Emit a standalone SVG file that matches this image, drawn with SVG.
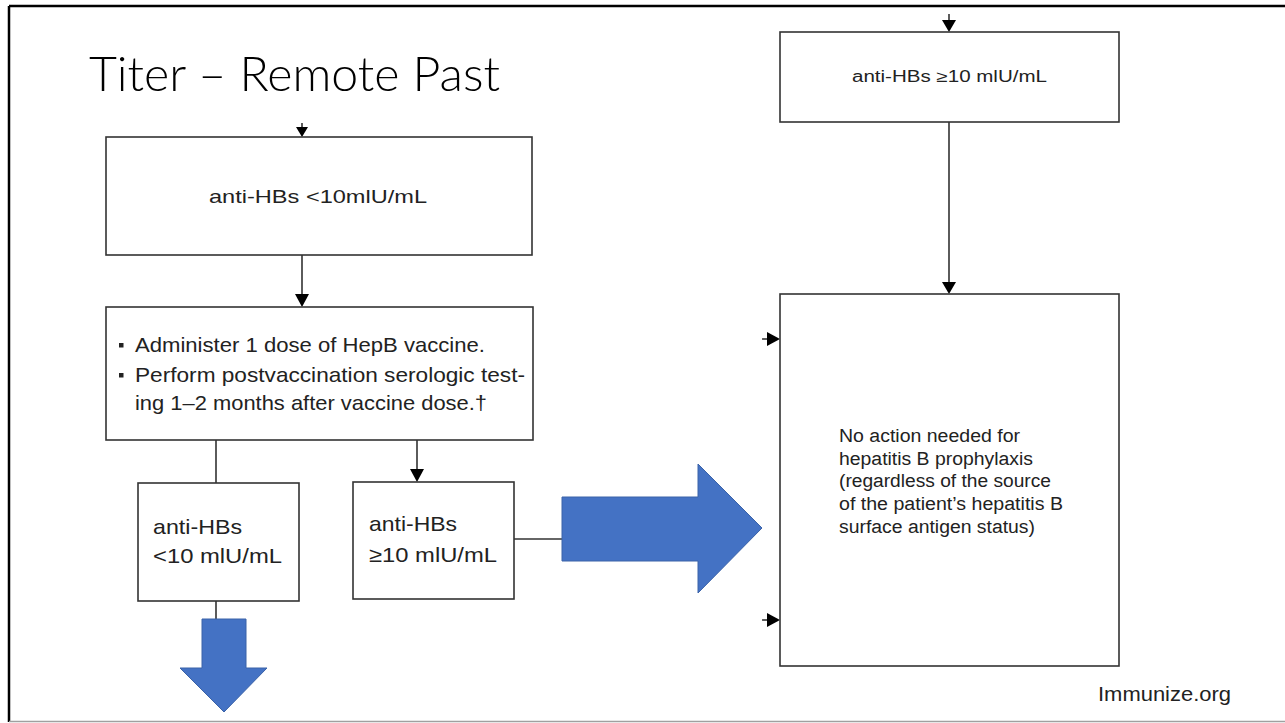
<svg xmlns="http://www.w3.org/2000/svg" width="1285" height="723" viewBox="0 0 1285 723">
<style>
.box{fill:#fff;stroke:#333;stroke-width:1.6}
.ln{stroke:#333;stroke-width:1.6;fill:none}
.ah{fill:#000}
.blue{fill:#4472C4;stroke:#3a62a8;stroke-width:1}
.t{font-family:"Liberation Sans",Arial,sans-serif;fill:#222}
.title{font-family:Lato,"Liberation Sans",sans-serif;font-weight:300;fill:#000}
</style>
<rect x="0" y="0" width="1285" height="723" fill="#fff"/>
<g id="frame">
<line x1="9" y1="6" x2="1285" y2="6" stroke="#000" stroke-width="2.5"/>
<line x1="9" y1="6" x2="9" y2="722" stroke="#000" stroke-width="2.5"/>
<line x1="9" y1="721.5" x2="1285" y2="721.5" stroke="#a0a0a0" stroke-width="1.5"/>
</g>
<g id="title">
<text class="title" x="89" y="91" font-size="48" textLength="411" lengthAdjust="spacingAndGlyphs">Titer – Remote Past</text>
</g>
<g id="connectors">
<line class="ln" x1="302" y1="123" x2="302" y2="128"/>
<polygon class="ah" points="296,127 308,127 302,137"/>
<line class="ln" x1="302" y1="255" x2="302" y2="295"/>
<polygon class="ah" points="295,294 309,294 302,307"/>
<line class="ln" x1="216" y1="440" x2="216" y2="483"/>
<line class="ln" x1="417" y1="440" x2="417" y2="470"/>
<polygon class="ah" points="410,469 424,469 417,482"/>
<line class="ln" x1="216" y1="601" x2="216" y2="620"/>
<line class="ln" x1="499" y1="539" x2="563" y2="539"/>
<line class="ln" x1="949" y1="14" x2="949" y2="21"/>
<polygon class="ah" points="942,20 956,20 949,32"/>
<line class="ln" x1="949" y1="122" x2="949" y2="283"/>
<polygon class="ah" points="942,282 956,282 949,294"/>
<line class="ln" x1="762" y1="339" x2="768" y2="339"/>
<polygon class="ah" points="767,332 767,346 780,339"/>
<line class="ln" x1="762" y1="620" x2="768" y2="620"/>
<polygon class="ah" points="767,613 767,627 780,620"/>
</g>
<g id="arrow-down">
<polygon class="blue" points="202,619 246,619 246,668 267,668 224,712 180,668 202,668"/>
</g>
<g id="arrow-right">
<polygon class="blue" points="562,497 698,497 698,464 762,528 698,593 698,561 562,561"/>
</g>
<g id="node-low-titer">
<rect class="box" x="106" y="137" width="426" height="118"/>
<text class="t" x="318" y="203" font-size="19" text-anchor="middle" textLength="218" lengthAdjust="spacingAndGlyphs">anti-HBs &lt;10mlU/mL</text>
</g>
<g id="node-action">
<rect class="box" x="106" y="307" width="427" height="133"/>
<rect x="119" y="343" width="4.5" height="4.5" fill="#222"/>
<rect x="119" y="373" width="4.5" height="4.5" fill="#222"/>
<text class="t" x="135" y="352" font-size="21" textLength="350" lengthAdjust="spacingAndGlyphs">Administer 1 dose of HepB vaccine.</text>
<text class="t" x="135" y="382" font-size="21" textLength="390" lengthAdjust="spacingAndGlyphs">Perform postvaccination serologic test-</text>
<text class="t" x="135" y="410" font-size="21" textLength="352" lengthAdjust="spacingAndGlyphs">ing 1–2 months after vaccine dose.†</text>
</g>
<g id="node-post-low">
<rect class="box" x="138" y="483" width="161" height="118"/>
<text class="t" x="153" y="534" font-size="21" textLength="89" lengthAdjust="spacingAndGlyphs">anti-HBs</text>
<text class="t" x="153" y="563" font-size="21" textLength="129" lengthAdjust="spacingAndGlyphs">&lt;10 mlU/mL</text>
</g>
<g id="node-post-high">
<rect class="box" x="353" y="482" width="161" height="117"/>
<text class="t" x="369" y="531" font-size="21" textLength="88" lengthAdjust="spacingAndGlyphs">anti-HBs</text>
<text class="t" x="369" y="562" font-size="21" textLength="128" lengthAdjust="spacingAndGlyphs">≥10 mlU/mL</text>
</g>
<g id="node-high-titer">
<rect class="box" x="780" y="32" width="339" height="90"/>
<text class="t" x="949.5" y="82" font-size="16" text-anchor="middle" textLength="195" lengthAdjust="spacingAndGlyphs">anti-HBs ≥10 mlU/mL</text>
</g>
<g id="node-no-action">
<rect class="box" x="780" y="294" width="339" height="372"/>
<text class="t" x="839" y="442" font-size="18" textLength="181" lengthAdjust="spacingAndGlyphs">No action needed for</text>
<text class="t" x="839" y="464.5" font-size="18" textLength="194" lengthAdjust="spacingAndGlyphs">hepatitis B prophylaxis</text>
<text class="t" x="839" y="487" font-size="18" textLength="212" lengthAdjust="spacingAndGlyphs">(regardless of the source</text>
<text class="t" x="839" y="510" font-size="18" textLength="224" lengthAdjust="spacingAndGlyphs">of the patient’s hepatitis B</text>
<text class="t" x="839" y="533" font-size="18" textLength="196" lengthAdjust="spacingAndGlyphs">surface antigen status)</text>
</g>
<g id="footer">
<text class="t" x="1098" y="701" font-size="20" fill="#000" textLength="133" lengthAdjust="spacingAndGlyphs">Immunize.org</text>
</g>
</svg>
